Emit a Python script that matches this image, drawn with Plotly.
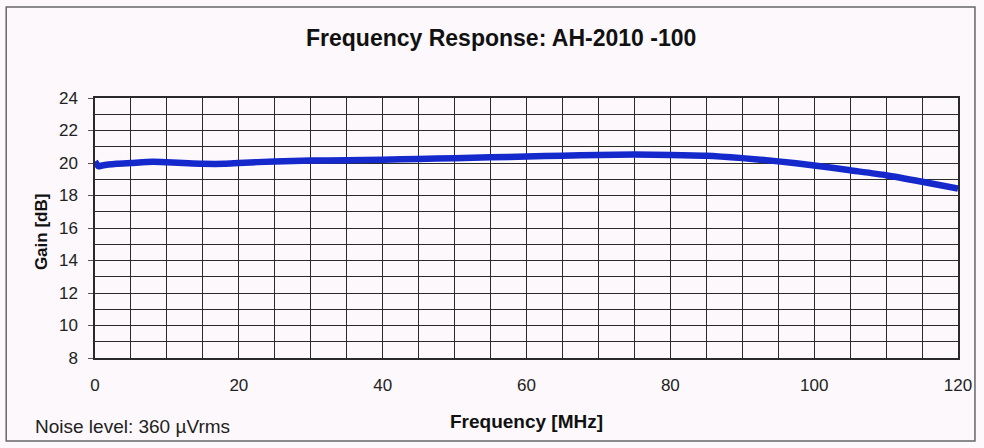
import plotly.graph_objects as go

freq_mhz = [0, 0.5, 1, 3, 5, 8, 10, 13, 15, 18, 20, 25, 30, 35, 40, 45, 50, 55, 60, 65, 70, 75, 80, 85, 90, 95, 100, 105, 110, 115, 120]
gain_db = [20.1, 19.8, 19.85, 19.95, 20.0, 20.08, 20.05, 19.98, 19.95, 19.95, 20.0, 20.1, 20.15, 20.17, 20.2, 20.25, 20.3, 20.35, 20.4, 20.45, 20.5, 20.52, 20.5, 20.45, 20.3, 20.1, 19.85, 19.55, 19.25, 18.85, 18.42]

x_ticks = [0, 20, 40, 60, 80, 100, 120]
y_ticks = [8, 10, 12, 14, 16, 18, 20, 22, 24]

W, H = 984, 448
L, R, T, B = 95, 24, 98, 90
pw, ph = W - L - R, H - T - B

def px(x):
    return (x - L) / pw

def py(y):
    return (H - B - y) / ph

bg = "#fcf8fb"
font = "Liberation Sans, Arial, sans-serif"
grid = "#2a2a2a"

fig = go.Figure()
fig.add_trace(go.Scatter(x=freq_mhz, y=gain_db, mode="lines",
                         line=dict(color="#1428cc", width=6.5, shape="spline", smoothing=0.6),
                         showlegend=False, hoverinfo="skip"))

fig.update_layout(
    width=W, height=H,
    margin=dict(l=L, r=R, t=T, b=B),
    paper_bgcolor=bg, plot_bgcolor=bg,
    font=dict(family=font, color="#222", size=17),
    xaxis=dict(range=[0, 120], tickvals=x_ticks, showgrid=True, gridcolor=grid, gridwidth=1.3,
               minor=dict(dtick=5, showgrid=True, gridcolor=grid, gridwidth=1.3),
               showline=True, linecolor=grid, linewidth=1.5, mirror=True,
               ticks="", ticklabelstandoff=11, zeroline=False),
    yaxis=dict(range=[8, 24], tickvals=y_ticks, showgrid=True, gridcolor=grid, gridwidth=1.3,
               minor=dict(dtick=1, showgrid=True, gridcolor=grid, gridwidth=1.3),
               showline=True, linecolor=grid, linewidth=1.5, mirror=True,
               ticks="outside", ticklen=5, tickcolor="#555", ticklabelstandoff=7, zeroline=False),
    shapes=[dict(type="rect", xref="paper", yref="paper",
                 x0=px(6), x1=px(977), y0=py(441), y1=py(7),
                 line=dict(color="#666", width=1.5), fillcolor="rgba(0,0,0,0)", layer="below")],
    annotations=[
        dict(text="<b>Frequency Response: AH-2010 -100</b>", xref="paper", yref="paper",
             x=px(502), y=py(38), xanchor="center", yanchor="middle", showarrow=False,
             font=dict(size=23, color="#111")),
        dict(text="<b>Frequency [MHz]</b>", xref="paper", yref="paper",
             x=px(527), y=py(421), xanchor="center", yanchor="middle", showarrow=False,
             font=dict(size=19, color="#111")),
        dict(text="<b>Gain [dB]</b>", xref="paper", yref="paper", textangle=-90,
             x=px(41), y=py(232), xanchor="center", yanchor="middle", showarrow=False,
             font=dict(size=17, color="#111")),
        dict(text="Noise level: 360 \u00b5Vrms", xref="paper", yref="paper",
             x=px(33), y=py(426), xanchor="left", yanchor="middle",
             showarrow=False, font=dict(size=19, color="#222")),
    ],
)

fig.write_html("out.html", config={"displayModeBar": False},
               post_script="document.body.style.margin='0';")
